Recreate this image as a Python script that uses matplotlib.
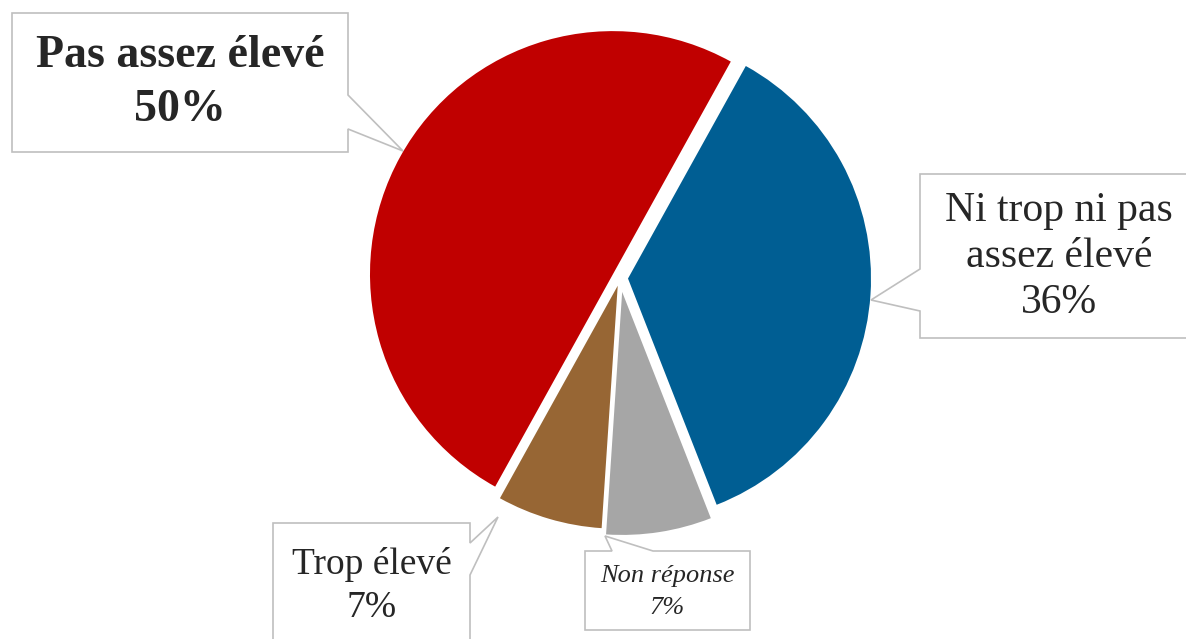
import matplotlib
matplotlib.use("Agg")
import matplotlib.pyplot as plt
from matplotlib.patches import Polygon

plt.rcParams["font.family"] = ["Liberation Serif", "DejaVu Serif"]

# data (clockwise from the top-right)
labels = ["Ni trop ni pas\nassez élevé", "Non réponse", "Trop élevé", "Pas assez élevé"]
values = [36, 7, 7, 50]
colors = ["#005E93", "#A6A6A6", "#976634", "#C00000"]

W, H = 1186, 639
fig = plt.figure(figsize=(W / 100, H / 100), dpi=100)

# pie in its own axes, centre (620, 278) px, radius 243 px
cx, cy, R = 620, 278, 243
lim = 1.3
side = 2 * lim * R
pie_ax = fig.add_axes([(cx - side / 2) / W, (H - cy - side / 2) / H, side / W, side / H])
pie_ax.pie(values, colors=colors, startangle=61, counterclock=False,
           explode=[0.033, 0.058, 0.033, 0.033],
           wedgeprops=dict(linewidth=0))
pie_ax.set_xlim(-lim, lim)
pie_ax.set_ylim(-lim, lim)
pie_ax.set_aspect("equal")
pie_ax.axis("off")

# overlay in pixel coords for the callouts
ax = fig.add_axes([0, 0, 1, 1])
ax.set_xlim(0, W)
ax.set_ylim(H, 0)
ax.axis("off")
ax.patch.set_alpha(0)

callouts = [
    [(920, 174), (1198, 174), (1198, 338), (920, 338), (920, 311), (871, 300), (920, 269)],
    [(585, 551), (612, 551), (605, 536), (653, 551), (750, 551), (750, 630), (585, 630)],
    [(273, 523), (470, 523), (470, 543), (498, 517), (470, 575), (470, 647), (273, 647)],
    [(12, 13), (348, 13), (348, 95), (403, 151), (348, 129), (348, 152), (12, 152)],
]
text_pos = [(1059, 257), (667.5, 592), (371.5, 586), (180, 83)]
text_style = [
    dict(fontsize=30, linespacing=1.25),
    dict(fontsize=19, style="italic", linespacing=1.6),
    dict(fontsize=27, linespacing=1.3),
    dict(fontsize=33, weight="bold", linespacing=1.35),
]

for lab, v, verts, pos, st in zip(labels, values, callouts, text_pos, text_style):
    ax.add_patch(Polygon(verts, closed=True, facecolor="white",
                         edgecolor="#BFBFBF", linewidth=1.2))
    ax.text(pos[0], pos[1], f"{lab}\n{v}%", ha="center", va="center",
            color="#262626", **st)

fig.savefig("out.png", dpi=100)
